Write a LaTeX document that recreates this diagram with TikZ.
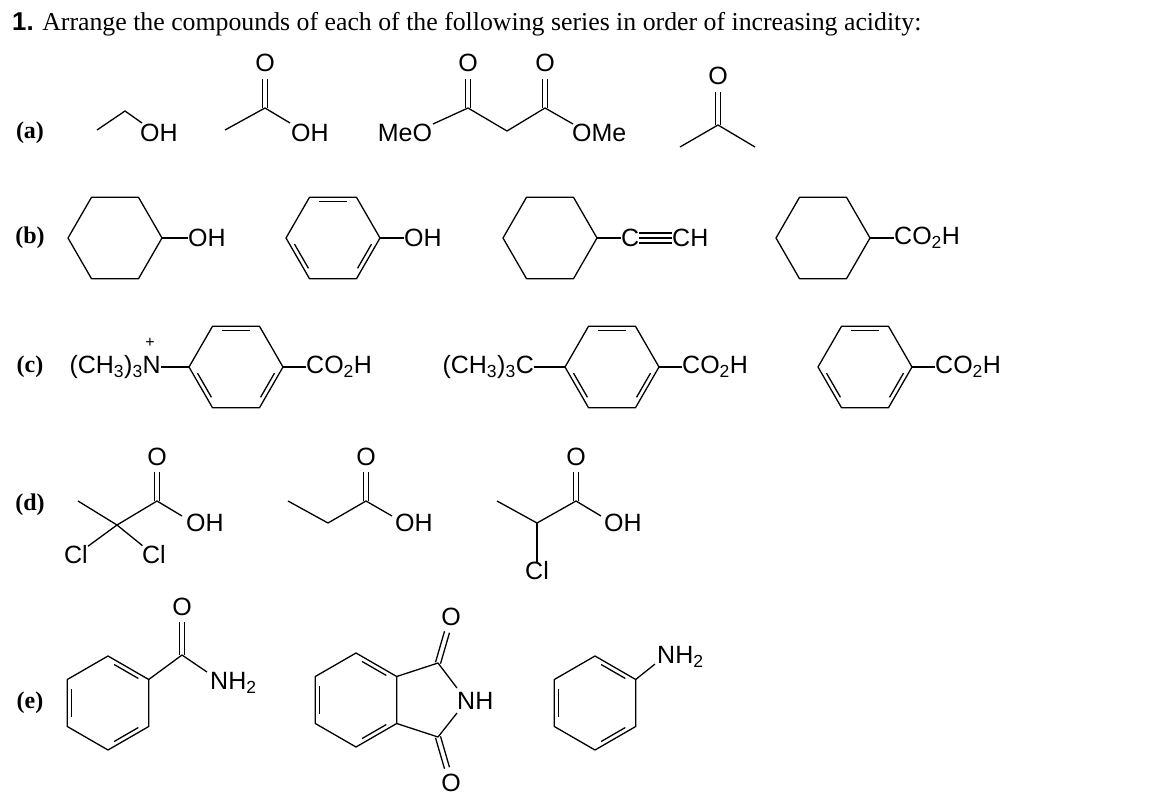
\documentclass[tikz,border=0pt]{standalone}
\usepackage{fontspec}
\setmainfont{Liberation Serif}
\setsansfont{Liberation Sans}
\usetikzlibrary{calc}
% ring outline: centre x, centre y, first corner angle
\newcommand{\hexa}[3] {
    \draw[bond] ($(#1,#2)+(#3:47)$) \foreach \k in {1,...,5} {-- ($(#1,#2)+(#3+60*\k:47)$)} -- cycle;
}
% inner lines of a benzene ring
\newcommand{\arom}[3] {
    \foreach \a in {#3,#3+120,#3+240}
        \draw[bond] ($(#1,#2)+(\a+9:39)$) -- ($(#1,#2)+(\a+51:39)$);
}
% double bond between two named points
\newcommand{\dbond}[2] {
    \draw[bond] ($(#1)!2.6pt!90:(#2)$) -- ($(#2)!2.6pt!-90:(#1)$);
    \draw[bond] ($(#1)!2.6pt!-90:(#2)$) -- ($(#2)!2.6pt!90:(#1)$);
}

\begin{document}
\begin{tikzpicture}[x=1pt,y=-1pt]
    \tikzset{
        bond/.style={line width=1.3pt,line join=round},
        atom/.style={inner sep=0pt,font=\sffamily\fontsize{25}{25}\selectfont},
        part/.style={inner sep=0pt,font=\bfseries\fontsize{24}{24}\selectfont}
    }
    \useasboundingbox (0,0) rectangle (1162,798);
    \node[inner sep=0pt,anchor=base west,font=\fontsize{25.8}{26}\selectfont] (title) at (12,30)
        {{\sffamily\bfseries 1.} Arrange the compounds of each of the following series in order of increasing acidity:};
    % series labels
    \node[part] (pa) at (30,133) {(a)};
    \node[part] (pb) at (30,238) {(b)};
    \node[part] (pc) at (30,367) {(c)};
    \node[part] (pd) at (30,505) {(d)};
    \node[part] (pe) at (30,703) {(e)};
    % (a)
    \coordinate (a1m) at (97,130); \coordinate (a1c) at (125,111); \coordinate (a1e) at (142,123);
    \node[atom,anchor=west] (a1oh) at (140,133) {OH};
    \draw[bond] (a1m) -- (a1c) -- (a1e);
    \coordinate (a2m) at (225,130); \coordinate (a2c) at (265,108); \coordinate (a2e) at (290,123);
    \coordinate (a2ot) at (265,79);
    \node[atom] (a2o) at (265,63) {O};
    \node[atom,anchor=west] (a2oh) at (291,133) {OH};
    \draw[bond] (a2m) -- (a2c) -- (a2e);
    \dbond{a2c}{a2ot}
    \node[atom] (a3meo) at (405,133) {MeO};
    \coordinate (a3e1) at (433,124); \coordinate (a3c1) at (468,108); \coordinate (a3ch) at (507,131);
    \coordinate (a3c2) at (545,108); \coordinate (a3e2) at (573,124);
    \coordinate (a3t1) at (468,79); \coordinate (a3t2) at (545,79);
    \node[atom] (a3o1) at (468,63) {O};
    \node[atom] (a3o2) at (545,63) {O};
    \node[atom,anchor=west] (a3ome) at (572,133) {OMe};
    \draw[bond] (a3e1) -- (a3c1) -- (a3ch) -- (a3c2) -- (a3e2);
    \dbond{a3c1}{a3t1}
    \dbond{a3c2}{a3t2}
    \coordinate (a4l) at (680,147); \coordinate (a4c) at (718,125); \coordinate (a4r) at (755,147);
    \coordinate (a4t) at (718,92);
    \node[atom] (a4o) at (718,76) {O};
    \draw[bond] (a4l) -- (a4c) -- (a4r);
    \dbond{a4c}{a4t}
    % (b)
    \hexa{115}{238}{0}
    \coordinate (b1r) at (162,238);
    \node[atom,anchor=west] (b1oh) at (188,238) {OH};
    \draw[bond] (b1r) -- (b1oh);
    \hexa{333}{238}{0} \arom{333}{238}{0}
    \coordinate (b2r) at (380,238);
    \node[atom,anchor=west] (b2oh) at (404,238) {OH};
    \draw[bond] (b2r) -- (b2oh);
    \hexa{550}{238}{0}
    \coordinate (b3r) at (597,238);
    \node[atom,anchor=west] (b3c) at (621,238) {C};
    \node[atom,anchor=west] (b3ch) at (672,238) {CH};
    \draw[bond] (b3r) -- (b3c);
    \draw[bond] (b3c.east) -- (b3ch.west);
    \draw[bond] ([yshift=-5]b3c.east) -- ([yshift=-5]b3ch.west);
    \draw[bond] ([yshift=5]b3c.east) -- ([yshift=5]b3ch.west);
    \hexa{823}{238}{0}
    \coordinate (b4r) at (870,238);
    \node[atom,anchor=west] (b4co) at (894,238) {CO\textsubscript{2}H};
    \draw[bond] (b4r) -- (b4co);
    % (c)
    \node[atom,anchor=east] (c1n) at (161,367) {(CH\textsubscript{3})\textsubscript{3}N};
    \node[atom,font=\sffamily\fontsize{16}{16}\selectfont] (c1p) at (150,343) {+};
    \hexa{236}{367}{0} \arom{236}{367}{0}
    \coordinate (c1l) at (189,367); \coordinate (c1r) at (283,367);
    \node[atom,anchor=west] (c1co) at (306,367) {CO\textsubscript{2}H};
    \draw[bond] (c1n) -- (c1l);
    \draw[bond] (c1r) -- (c1co);
    \node[atom,anchor=east] (c2c) at (534,367) {(CH\textsubscript{3})\textsubscript{3}C};
    \hexa{612}{367}{0} \arom{612}{367}{0}
    \coordinate (c2l) at (565,367); \coordinate (c2r) at (659,367);
    \node[atom,anchor=west] (c2co) at (682,367) {CO\textsubscript{2}H};
    \draw[bond] (c2c) -- (c2l);
    \draw[bond] (c2r) -- (c2co);
    \hexa{865}{367}{0} \arom{865}{367}{0}
    \coordinate (c3r) at (912,367);
    \node[atom,anchor=west] (c3co) at (935,367) {CO\textsubscript{2}H};
    \draw[bond] (c3r) -- (c3co);
    % (d)
    \coordinate (d1m) at (78,501); \coordinate (d1q) at (117,525); \coordinate (d1c) at (157,501);
    \coordinate (d1e) at (182,516); \coordinate (d1t) at (157,472);
    \node[atom] (d1o) at (157,457) {O};
    \node[atom,anchor=west] (d1oh) at (186,523) {OH};
    \node[atom] (d1cla) at (76,555) {Cl};
    \node[atom] (d1clb) at (154,555) {Cl};
    \draw[bond] (d1m) -- (d1q) -- (d1c) -- (d1e);
    \draw[bond] (d1q) -- (d1cla);
    \draw[bond] (d1q) -- (d1clb);
    \dbond{d1c}{d1t}
    \coordinate (d2m) at (288,501); \coordinate (d2q) at (328,523); \coordinate (d2c) at (366,501);
    \coordinate (d2e) at (392,516); \coordinate (d2t) at (366,472);
    \node[atom] (d2o) at (366,457) {O};
    \node[atom,anchor=west] (d2oh) at (395,523) {OH};
    \draw[bond] (d2m) -- (d2q) -- (d2c) -- (d2e);
    \dbond{d2c}{d2t}
    \coordinate (d3m) at (497,501); \coordinate (d3q) at (537,523); \coordinate (d3c) at (576,501);
    \coordinate (d3e) at (601,516); \coordinate (d3t) at (576,472);
    \node[atom] (d3o) at (576,457) {O};
    \node[atom,anchor=west] (d3oh) at (604,523) {OH};
    \node[atom] (d3cl) at (537,571) {Cl};
    \draw[bond] (d3m) -- (d3q) -- (d3c) -- (d3e);
    \draw[bond] (d3q) -- (d3cl);
    \dbond{d3c}{d3t}
    % (e)
    \hexa{108}{703}{30} \arom{108}{703}{30}
    \coordinate (e1r) at (148.7,679.5); \coordinate (e1c) at (182,655);
    \coordinate (e1e) at (207,672); \coordinate (e1t) at (182,622);
    \node[atom] (e1o) at (182,607) {O};
    \node[atom,anchor=west] (e1n) at (210,683) {NH\textsubscript{2}};
    \draw[bond] (e1r) -- (e1c) -- (e1e);
    \dbond{e1c}{e1t}
    \hexa{356}{700}{30} \arom{356}{700}{30}
    \coordinate (e2a) at (396.7,676.5); \coordinate (e2b) at (396.7,723.5);
    \coordinate (e2ct) at (438,663); \coordinate (e2cb) at (438,737);
    \coordinate (e2nt) at (457,688); \coordinate (e2nb) at (457,713);
    \coordinate (e2tt) at (447,632); \coordinate (e2tb) at (447,768);
    \node[atom] (e2o1) at (451,617) {O};
    \node[atom] (e2o2) at (451,783) {O};
    \node[atom,anchor=west] (e2nh) at (457,701) {NH};
    \draw[bond] (e2a) -- (e2ct) -- (e2nt);
    \draw[bond] (e2b) -- (e2cb) -- (e2nb);
    \dbond{e2ct}{e2tt}
    \dbond{e2cb}{e2tb}
    \hexa{595}{703}{30} \arom{595}{703}{30}
    \coordinate (e3r) at (635.7,679.5); \coordinate (e3e) at (655,664);
    \node[atom,anchor=west] (e3n) at (657,657) {NH\textsubscript{2}};
    \draw[bond] (e3r) -- (e3e);
\end{tikzpicture}
\end{document}
